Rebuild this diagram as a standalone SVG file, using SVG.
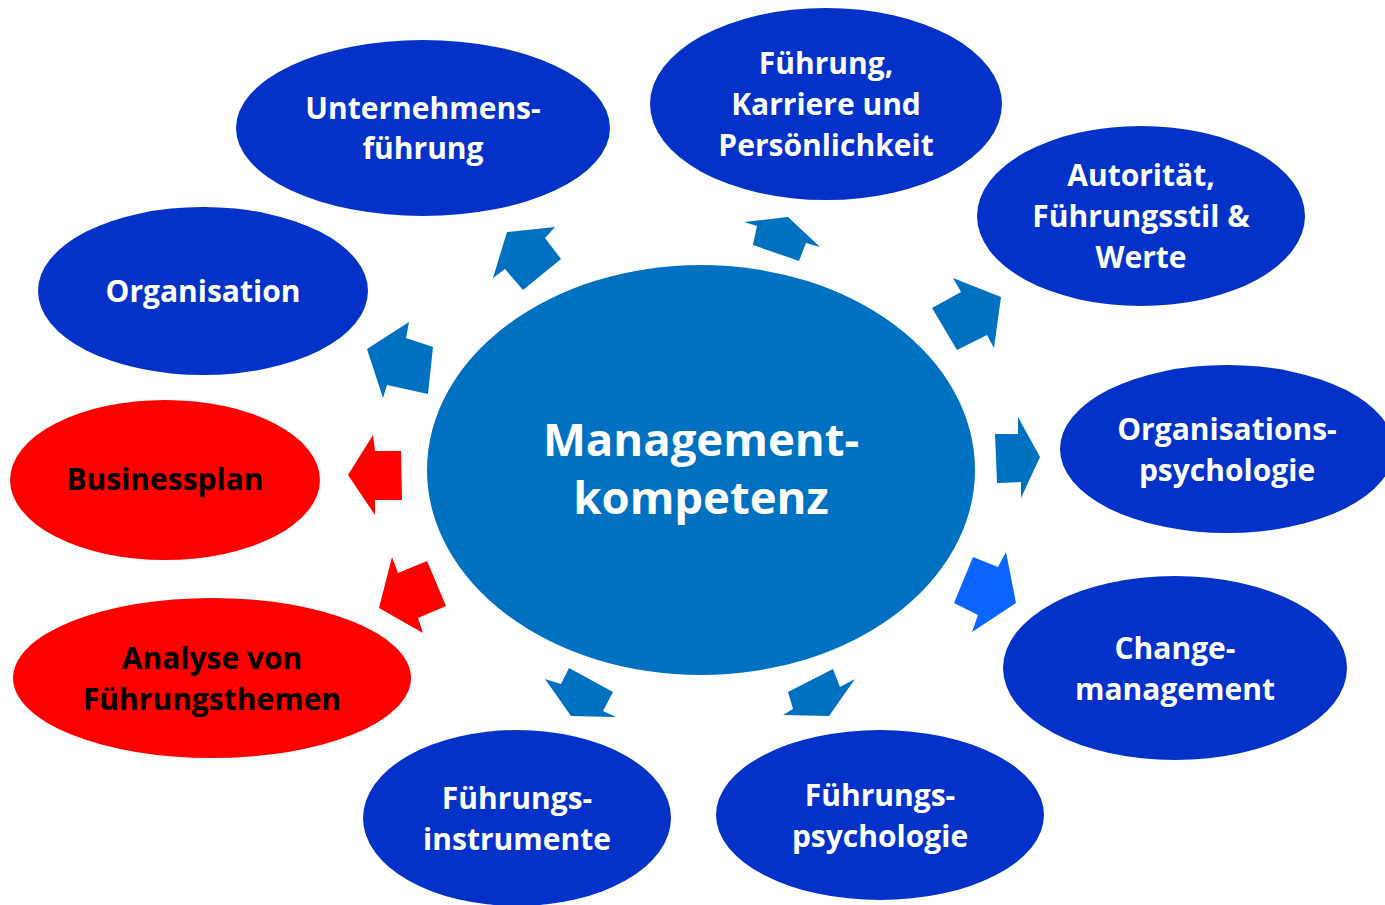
<svg xmlns="http://www.w3.org/2000/svg" width="1385" height="905" viewBox="0 0 1385 905">
<style>
.n{fill:#0432c8}
.r{fill:#ff0000}
.a{fill:#0070c0}
.t{font-family:"Open Sans","Liberation Sans",sans-serif;font-weight:bold;font-size:30px;text-anchor:middle;fill:#ffffff}
.tb{fill:#000000}
.c{font-family:"Open Sans","Liberation Sans",sans-serif;font-weight:bold;font-size:45.5px;text-anchor:middle;fill:#ffffff}
</style>
<rect width="1385" height="905" fill="#ffffff"/>
<g id="connectors">
<polygon class="a" points="507,232 555,227 545,238 561,259 523,290 505,269 493,278"/>
<polygon class="a" points="744,222 788,217 820,247 806,243 799,261 753,245 757,226"/>
<polygon class="a" points="953,278 961,292 932,308 957,350 987,335 994,348 1001,297"/>
<polygon class="a" points="995,434 1018,434 1018,417 1040,457 1021,498 1021,482 997,483"/>
<polygon fill="#0a64ff" points="973,557 998,567 1006,552 1016,603 972,632 978,615 954,603"/>
<polygon class="r" points="373,435 375,451 401,451 402,500 375,500 375,515 348,475"/>
<polygon class="r" points="392,557 398,573 427,561 446,606 418,618 423,633 379,608"/>
<polygon class="a" points="545,679 561,684 569,668 613,692 603,711 616,717 571,716"/>
<polygon class="a" points="833,669 840,687 855,679 829,716 783,715 793,709 788,692"/>
<polygon class="a" points="409,322 406,338 433,347 428,394 387,385 383,398 367,349"/>
</g>
<g id="center">
<ellipse cx="701" cy="470" rx="274" ry="205" fill="#0070c0"/>
<text class="c" x="701" y="456">Management-</text>
<text class="c" x="701" y="514">kompetenz</text>
</g>
<g id="unternehmensfuehrung">
<ellipse class="n" cx="423" cy="128" rx="187" ry="88"/>
<text class="t" x="423" y="119">Unternehmens-</text>
<text class="t" x="423" y="159">führung</text>
</g>
<g id="fuehrung-karriere">
<ellipse class="n" cx="826" cy="104" rx="176" ry="96"/>
<text class="t" x="826" y="74">Führung,</text>
<text class="t" x="826" y="115">Karriere und</text>
<text class="t" x="826" y="156">Persönlichkeit</text>
</g>
<g id="autoritaet">
<ellipse class="n" cx="1141" cy="216" rx="164" ry="90"/>
<text class="t" x="1141" y="186">Autorität,</text>
<text class="t" x="1141" y="227">Führungsstil &amp;</text>
<text class="t" x="1141" y="268">Werte</text>
</g>
<g id="organisationspsychologie">
<ellipse class="n" cx="1227" cy="449" rx="167" ry="84"/>
<text class="t" x="1227" y="440">Organisations-</text>
<text class="t" x="1227" y="481">psychologie</text>
</g>
<g id="changemanagement">
<ellipse class="n" cx="1175" cy="668" rx="172" ry="92"/>
<text class="t" x="1175" y="659">Change-</text>
<text class="t" x="1175" y="700">management</text>
</g>
<g id="fuehrungspsychologie">
<ellipse class="n" cx="880" cy="815" rx="164" ry="85"/>
<text class="t" x="880" y="806">Führungs-</text>
<text class="t" x="880" y="847">psychologie</text>
</g>
<g id="fuehrungsinstrumente">
<ellipse class="n" cx="517" cy="818" rx="154" ry="88"/>
<text class="t" x="517" y="809">Führungs-</text>
<text class="t" x="517" y="850">instrumente</text>
</g>
<g id="analyse">
<ellipse class="r" cx="212" cy="678" rx="199" ry="80"/>
<text class="t tb" x="212" y="669">Analyse von</text>
<text class="t tb" x="212" y="710">Führungsthemen</text>
</g>
<g id="businessplan">
<ellipse class="r" cx="165" cy="480" rx="155" ry="80"/>
<text class="t tb" x="165" y="490">Businessplan</text>
</g>
<g id="organisation">
<ellipse class="n" cx="203" cy="291" rx="165" ry="84"/>
<text class="t" x="203" y="302">Organisation</text>
</g>
</svg>
